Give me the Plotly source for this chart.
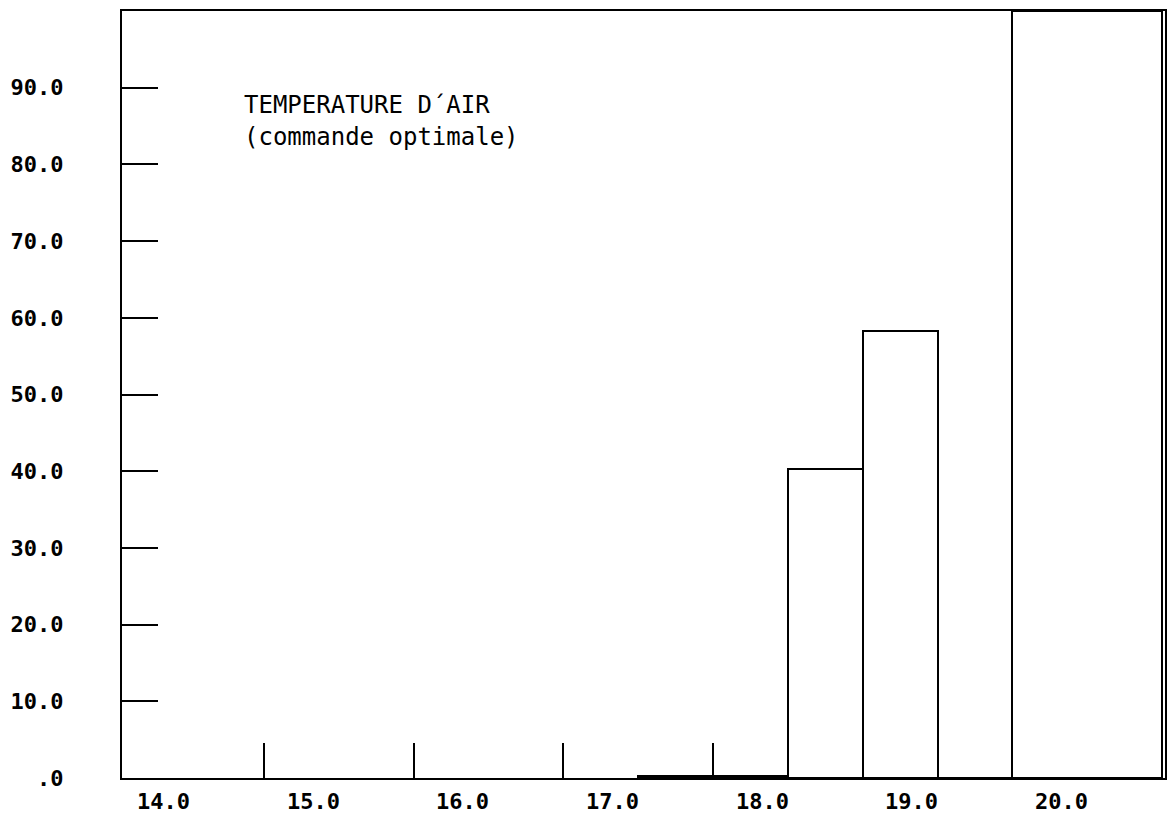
import plotly.graph_objects as go

# Histogram bins (temperature, °C) and frequencies
bin_left = [17.5, 18.0, 18.5, 19.0, 19.5, 20.0]
bin_right = [18.0, 18.5, 19.0, 19.5, 20.0, 21.0]
freq = [0.3, 0.2, 40.3, 58.3, 0.0, 100.0]

x_tick_values = [14.0, 15.0, 16.0, 17.0, 18.0, 19.0, 20.0]
x_tick_labels = ["14.0", "15.0", "16.0", "17.0", "18.0", "19.0", "20.0"]
y_tick_values = [0, 10, 20, 30, 40, 50, 60, 70, 80, 90]
y_tick_labels = [".0", "10.0", "20.0", "30.0", "40.0", "50.0", "60.0", "70.0", "80.0", "90.0"]

title_lines = ["TEMPERATURE D´AIR", "(commande optimale)"]

X_RANGE = [14.05, 21.02]

centers = [(a + b) / 2 for a, b in zip(bin_left, bin_right)]
widths = [b - a for a, b in zip(bin_left, bin_right)]

fig = go.Figure()
fig.add_trace(go.Bar(
    x=centers, y=freq, width=widths,
    marker=dict(color="white", line=dict(color="black", width=2)),
    showlegend=False, hoverinfo="skip",
))

mono = "DejaVu Sans Mono"
tickfont = dict(family=mono, size=22, color="black", weight="bold")

annotations = []
for v, t in zip(x_tick_values, x_tick_labels):
    annotations.append(dict(
        x=(v - X_RANGE[0]) / (X_RANGE[1] - X_RANGE[0]), xref="paper",
        y=0, yref="paper", text=t, showarrow=False,
        xanchor="center", yanchor="top", xshift=49, yshift=-9,
        font=tickfont,
    ))
annotations.append(dict(
    x=0.115, xref="paper", y=0.877, yref="paper", text=title_lines[0],
    showarrow=False, xanchor="left", yanchor="middle",
    font=dict(family=mono, size=24, color="black"),
))
annotations.append(dict(
    x=0.115, xref="paper", y=0.836, yref="paper", text=title_lines[1],
    showarrow=False, xanchor="left", yanchor="middle",
    font=dict(family=mono, size=24, color="black"),
))

fig.update_layout(
    width=1167, height=816,
    margin=dict(l=114, r=10, t=1, b=46),
    paper_bgcolor="white", plot_bgcolor="white",
    bargap=0,
    xaxis=dict(
        range=X_RANGE, showline=True, linecolor="black", linewidth=2,
        mirror=True, ticks="inside", tickvals=[15, 16, 17, 18, 19, 20],
        ticklen=35, tickwidth=2, tickcolor="black", showticklabels=False,
        showgrid=False, zeroline=False,
    ),
    yaxis=dict(
        range=[0, 100], showline=True, linecolor="black", linewidth=2,
        mirror=True, ticks="inside", tickvals=y_tick_values,
        ticktext=y_tick_labels, ticklen=36, tickwidth=2, tickcolor="black",
        ticklabelstandoff=52, tickfont=tickfont,
        showgrid=False, zeroline=False,
    ),
    annotations=annotations,
)

fig.write_html("out.html")
